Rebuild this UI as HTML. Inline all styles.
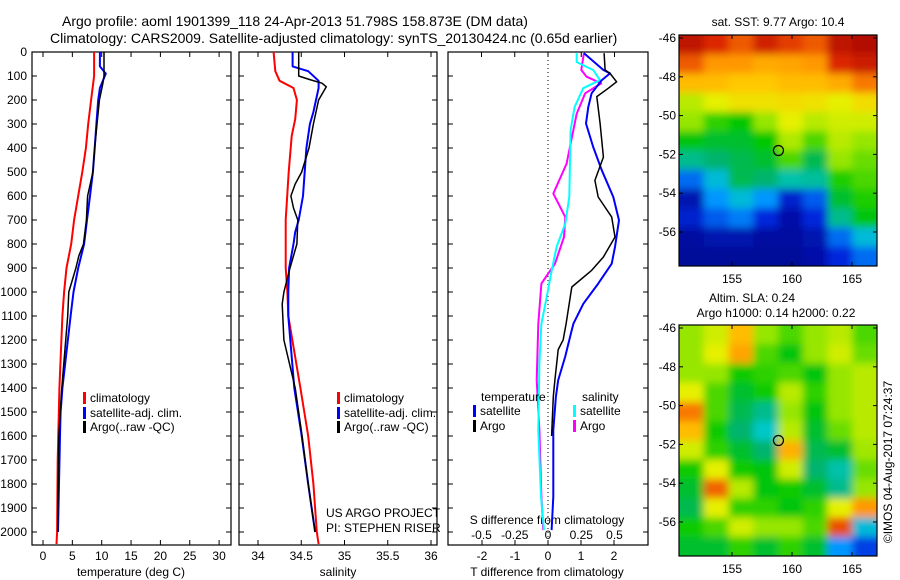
<!DOCTYPE html>
<html><head><meta charset="utf-8">
<style>
html,body{margin:0;padding:0;background:#fff;width:900px;height:580px;overflow:hidden}
svg{display:block;font-family:"Liberation Sans",Arial,sans-serif}
</style></head>
<body>
<svg id="fig" width="900" height="580" viewBox="0 0 900 580" xmlns="http://www.w3.org/2000/svg">
<text x="62" y="26" font-size="14">Argo profile: aoml 1901399_118 24-Apr-2013 51.798S 158.873E (DM data)</text>
<text x="50" y="43" font-size="14">Climatology: CARS2009. Satellite-adjusted climatology: synTS_20130424.nc (0.65d earlier)</text>
<g id="g"></g>
</svg>
<script>
// ---- data ----
const depthTicks = [0,100,200,300,400,500,600,700,800,900,1000,1100,1200,1300,1400,1500,1600,1700,1800,1900,2000];
const tempTicks = [0,5,10,15,20,25,30];
const salTicks = [34,34.5,35,35.5,36];
const tdiffTicks = [-2,-1,0,1,2];
const sdiffTicks = [-0.5,-0.25,0,0.25,0.5];
const sdiffLabels = ["-0.5","-0.25","0","0.25","0.5"];

const tClimDepth = [0,100,200,300,400,500,600,700,800,900,1000,1100,1400,1700,2000,2050];
const tClimVal   = [8.7,8.7,8.2,7.7,7.3,6.7,6.0,5.3,4.8,4.0,3.6,3.3,2.8,2.5,2.4,2.3];
const tSatDepth = [0,60,90,150,200,300,400,500,600,700,800,900,1000,1100,1400,1500,1600,2000];
const tSatVal   = [9.7,9.7,10.7,9.7,9.4,9.1,8.8,8.5,8.0,7.5,7.0,6.0,5.2,4.7,3.3,3.0,2.9,2.55];
const tArgoDepth = [0,100,130,200,300,400,500,600,700,800,850,900,1000,1100,1400,1600,2000];
const tArgoVal   = [10.4,10.4,10.2,9.6,9.2,8.8,8.5,7.6,7.4,6.9,6.1,5.6,4.4,4.2,3.2,2.7,2.5];

const sClimDepth = [0,80,120,150,200,280,350,500,700,900,1000,1100,1400,1600,1800,2000,2050];
const sClimVal   = [34.18,34.2,34.25,34.41,34.45,34.43,34.39,34.355,34.32,34.32,34.34,34.35,34.49,34.58,34.64,34.68,34.70];
const sSatDepth = [0,60,80,120,150,250,300,400,500,600,700,750,800,900,1000,1100,1400,1600,1800,2000];
const sSatVal   = [34.40,34.40,34.58,34.70,34.70,34.64,34.60,34.56,34.54,34.52,34.47,34.43,34.41,34.36,34.35,34.35,34.42,34.505,34.58,34.66];
const sArgoDepth = [0,100,115,130,145,200,300,400,500,550,600,650,700,800,900,1000,1050,1200,1400,1600,1800,2000];
const sArgoVal   = [34.47,34.47,34.60,34.74,34.79,34.70,34.64,34.59,34.505,34.43,34.38,34.41,34.46,34.45,34.37,34.30,34.28,34.30,34.43,34.51,34.58,34.66];

const dtSatDepth = [5,75,89,117,172,229,298,396,493,604,701,812,882,965,1049,1132,1158,1269,1367,1436,1575,1853,1992];
const dtSatVal   = [1.09,1.68,1.88,1.63,1.32,1.22,1.15,1.37,1.63,1.98,2.15,2.03,1.93,1.52,1.07,0.77,0.72,0.52,0.31,0.24,0.16,0.16,0.11];
const dtArgoDepth = [5,75,89,124,151,186,298,438,535,604,688,771,854,910,979,1132,1199,1240,1367,1436,1600];
const dtArgoVal   = [1.70,1.73,1.88,2.08,1.83,1.48,1.58,1.68,1.42,1.52,1.93,2.03,1.68,1.32,0.72,0.55,0.46,0.31,0.21,0.16,0.11];
const dsSatDepth = [5,42,75,117,151,229,326,604,715,812,910,1021,1132,1296,1575,1853,1992];
const dsSatVal   = [0.216,0.216,0.34,0.39,0.265,0.20,0.17,0.16,0.13,0.065,0.028,-0.01,-0.05,-0.065,-0.073,-0.053,-0.03];
const dsArgoDepth = [5,75,103,131,172,257,465,590,688,771,882,965,1132,1367,1575,1853,1992];
const dsArgoVal   = [0.27,0.25,0.29,0.40,0.28,0.216,0.14,0.04,0.13,0.12,0.053,-0.05,-0.073,-0.085,-0.065,-0.05,-0.035];

// map grids (rows top->bottom lat -46..-58, cols lon 151..167), values 0..1 on colormap
const sstGrid = [
[0.95,0.9,0.85,0.92,0.88,0.85,0.95,0.97],
[0.85,0.78,0.78,0.75,0.76,0.78,0.9,0.93],
[0.72,0.72,0.7,0.7,0.72,0.72,0.75,0.82],
[0.58,0.62,0.65,0.65,0.66,0.65,0.62,0.66],
[0.55,0.48,0.45,0.55,0.62,0.58,0.6,0.6],
[0.44,0.42,0.42,0.45,0.57,0.5,0.58,0.55],
[0.36,0.38,0.4,0.42,0.5,0.4,0.55,0.52],
[0.2,0.3,0.4,0.38,0.34,0.35,0.47,0.5],
[0.06,0.25,0.3,0.25,0.1,0.18,0.42,0.47],
[0.1,0.18,0.22,0.12,0.05,0.12,0.36,0.44],
[0.04,0.06,0.06,0.04,0.04,0.06,0.2,0.3],
[0.03,0.03,0.03,0.03,0.03,0.05,0.12,0.2]];
const slaGrid = [
[0.55,0.6,0.72,0.55,0.5,0.55,0.58,0.5],
[0.55,0.62,0.76,0.5,0.44,0.55,0.6,0.52],
[0.55,0.55,0.46,0.48,0.5,0.44,0.55,0.58],
[0.62,0.5,0.42,0.46,0.58,0.48,0.55,0.58],
[0.82,0.5,0.4,0.36,0.55,0.44,0.55,0.58],
[0.72,0.46,0.38,0.32,0.58,0.42,0.52,0.58],
[0.6,0.48,0.42,0.38,0.74,0.4,0.42,0.56],
[0.46,0.62,0.46,0.44,0.6,0.38,0.34,0.52],
[0.42,0.84,0.58,0.44,0.46,0.42,0.36,0.55],
[0.4,0.62,0.48,0.48,0.44,0.48,0.62,0.78],
[0.46,0.5,0.6,0.55,0.55,0.5,0.86,0.3],
[0.42,0.42,0.48,0.42,0.48,0.42,0.25,0.15]];
const lonTicks = [155,160,165];
const latTicks = [-46,-48,-50,-52,-54,-56];
const floatLon = 158.87, floatLat = -51.8;

// ---- drawing ----
const NS = "http://www.w3.org/2000/svg";
const G = document.getElementById('g');
function mk(tag, attrs, parent){ const e=document.createElementNS(NS,tag); for(const k in attrs) e.setAttribute(k,attrs[k]); (parent||G).appendChild(e); return e; }
const Y0=52, YB=545;
const yD = d => Y0 + d*0.24;
const xT = v => 43 + v*5.87;
const xS = v => 258 + (v-34)*86.5;
const xDT = v => 548 + v*33;
const xDS = v => 548 + v*133;

function panel(x0,x1,name){
  const r = mk('rect',{x:x0,y:Y0,width:x1-x0,height:YB-Y0,fill:'none',stroke:'#000','stroke-width':1.2});
  
  
  depthTicks.forEach(d=>{
    mk('line',{x1:x0,x2:x0+5,y1:yD(d),y2:yD(d),stroke:'#000'});
    mk('line',{x1:x1,x2:x1-5,y1:yD(d),y2:yD(d),stroke:'#000'});
  });
}
function line(depths, vals, xf, color, w, name){
  const pts = depths.map((d,i)=> xf(vals[i]).toFixed(1)+','+yD(d).toFixed(1)).join(' ');
  const p = mk('polyline',{points:pts,fill:'none',stroke:color,'stroke-width':w,'stroke-linejoin':'round'});
  
  
}
function txt(x,y,s,opts){
  const t = mk('text',Object.assign({x:x,y:y,'font-size':12},opts||{}));
  t.textContent = s; return t;
}
function xticks(x0,x1,ticks,xf,labels,yLab){
  ticks.forEach((v,i)=>{
    const x=xf(v);
    mk('line',{x1:x,x2:x,y1:YB,y2:YB-5,stroke:'#000'});
    mk('line',{x1:x,x2:x,y1:Y0,y2:Y0+5,stroke:'#000'});
    const t = txt(x,yLab,labels?labels[i]:String(v),{'text-anchor':'middle'});
    
    
  });
}
panel(32,231,'temperature-axes');
panel(239,437,'salinity-axes');
panel(448,648,'difference-axes');
depthTicks.forEach(d=>{
  const t = txt(27,yD(d)+4,String(d),{'text-anchor':'end'});
  
  
});
xticks(32,231,tempTicks,xT,null,560);
xticks(239,437,salTicks,xS,null,560);
tdiffTicks.forEach(v=>{
  const x=xDT(v);
  mk('line',{x1:x,x2:x,y1:YB,y2:YB-5,stroke:'#000'});
  const t = txt(x,560,String(v),{'text-anchor':'middle'});
  
  
});
sdiffTicks.forEach((v,i)=>{
  const x=xDS(v);
  mk('line',{x1:x,x2:x,y1:Y0,y2:Y0+5,stroke:'#000'});
  const t = txt(x,539,sdiffLabels[i],{'text-anchor':'middle'});
  
  
});
mk('line',{x1:548,x2:548,y1:Y0,y2:YB,stroke:'#000','stroke-dasharray':'1,3'});

let t;
t=txt(131,576,'temperature (deg C)',{'text-anchor':'middle'});  
t=txt(338,576,'salinity',{'text-anchor':'middle'});  
t=txt(547,576,'T difference from climatology',{'text-anchor':'middle'});  
t=txt(547,524,'S difference from climatology',{'text-anchor':'middle'});  
t=txt(326,517,'US ARGO PROJECT');  
t=txt(326,532,'PI: STEPHEN RISER');  

line(tClimDepth,tClimVal,xT,'#f00',2,'temp-climatology-line');
line(tSatDepth,tSatVal,xT,'#00f',2,'temp-satellite-line');
line(tArgoDepth,tArgoVal,xT,'#000',1.5,'temp-argo-line');
line(sClimDepth,sClimVal,xS,'#f00',2,'sal-climatology-line');
line(sSatDepth,sSatVal,xS,'#00f',2,'sal-satellite-line');
line(sArgoDepth,sArgoVal,xS,'#000',1.5,'sal-argo-line');
line(dsArgoDepth,dsArgoVal,xDS,'#f0f',2,'sdiff-argo-line');
line(dsSatDepth,dsSatVal,xDS,'#0ff',2,'sdiff-satellite-line');
line(dtSatDepth,dtSatVal,xDT,'#00f',2,'tdiff-satellite-line');
line(dtArgoDepth,dtArgoVal,xDT,'#000',1.5,'tdiff-argo-line');

function leg(x,y,color,label,name){
  mk('rect',{x:x,y:y-10,width:3,height:12,fill:color});
  const tt = txt(x+7,y,label);
  
  
}
leg(83,402,'#f00','climatology','legend-climatology');
leg(83,417,'#00f','satellite-adj. clim.','legend-satellite');
leg(83,431,'#000','Argo(..raw -QC)','legend-argo');
leg(337,402,'#f00','climatology','legend2-climatology');
leg(337,417,'#00f','satellite-adj. clim.','legend2-satellite');
leg(337,431,'#000','Argo(..raw -QC)','legend2-argo');
t=txt(481,401,'temperature');  
t=txt(582,401,'salinity');  
leg(473,415,'#00f','satellite','legend-tdiff-satellite');
leg(473,430,'#000','Argo','legend-tdiff-argo');
leg(573,415,'#0ff','satellite','legend-sdiff-satellite');
leg(573,430,'#f0f','Argo','legend-sdiff-argo');

// colormap
const cmStops = [0,0.12,0.25,0.32,0.38,0.45,0.55,0.62,0.7,0.8,0.9,1.0];
const cmColors = [[0,0,130],[0,40,220],[0,150,255],[0,200,200],[0,180,110],[0,200,0],[150,230,0],[230,240,0],[255,200,0],[255,140,0],[220,40,0],[160,0,0]];
function cmap(v){
  v=Math.max(0,Math.min(1,v));
  let i=0; while(i<cmStops.length-2 && v>cmStops[i+1]) i++;
  const f=(v-cmStops[i])/(cmStops[i+1]-cmStops[i]);
  const a=cmColors[i], b=cmColors[i+1];
  return 'rgb('+a.map((c,k)=>Math.round(c+(b[k]-c)*f)).join(',')+')';
}
const MX0=679, MX1=877;
const xLon = lon => 732 + (lon-155)*12;
const yLat = (lat,top) => top + 3 + (-46-lat)*19.4;
const defs = mk('defs',{});
const f = mk('filter',{id:'bl',x:'-10%',y:'-10%',width:'120%',height:'120%'},defs);
mk('feGaussianBlur',{stdDeviation:4},f);
function map(top,bottom,grid,name,clipId){
  const cp = mk('clipPath',{id:clipId},defs);
  mk('rect',{x:MX0,y:top,width:MX1-MX0,height:bottom-top},cp);
  const g = mk('g',{'clip-path':'url(#'+clipId+')'});
  
  
  const inner = mk('g',{filter:'url(#bl)'},g);
  const rows=grid.length, cols=grid[0].length;
  const cw=(MX1-MX0)/cols, ch=(bottom-top)/rows;
  grid.forEach((row,i)=>row.forEach((v,j)=>{
    mk('rect',{x:MX0+j*cw-(j==0?20:0),y:top+i*ch-(i==0?20:0),width:cw+1+(j==0||j==cols-1?20:0),height:ch+1+(i==0||i==rows-1?20:0),fill:cmap(v)},inner);
  }));
  mk('rect',{x:MX0,y:top,width:MX1-MX0,height:bottom-top,fill:'none',stroke:'#000','stroke-width':1.2});
  latTicks.forEach(l=>{
    const y=yLat(l,top);
    mk('line',{x1:MX0,x2:MX0+4,y1:y,y2:y,stroke:'#000'});
    mk('line',{x1:MX1,x2:MX1-4,y1:y,y2:y,stroke:'#000'});
    const tt=txt(676,y+4,String(l),{'text-anchor':'end'});
    
    
  });
  lonTicks.forEach(l=>{
    const x=xLon(l);
    mk('line',{x1:x,x2:x,y1:top,y2:top+4,stroke:'#000'});
    mk('line',{x1:x,x2:x,y1:bottom,y2:bottom-4,stroke:'#000'});
    const tt=txt(x,bottom+17,String(l),{'text-anchor':'middle'});
    
    
  });
  const c=mk('circle',{cx:xLon(floatLon),cy:yLat(floatLat,top),r:5,fill:'none',stroke:'#000','stroke-width':1.2});
  
  
}
map(35,266,sstGrid,'sst-map','c1');
map(325,556,slaGrid,'sla-map','c2');
t=txt(778,26,'sat. SST: 9.77 Argo: 10.4',{'text-anchor':'middle'});  
t=txt(752,302,'Altim. SLA: 0.24',{'text-anchor':'middle'});  
t=txt(776,317,'Argo h1000: 0.14 h2000: 0.22',{'text-anchor':'middle'});  
t=txt(0,0,'©IMOS 04-Aug-2017 07:24:37',{'text-anchor':'middle',transform:'translate(892,462) rotate(-90)'});  
</script>
</body></html>
